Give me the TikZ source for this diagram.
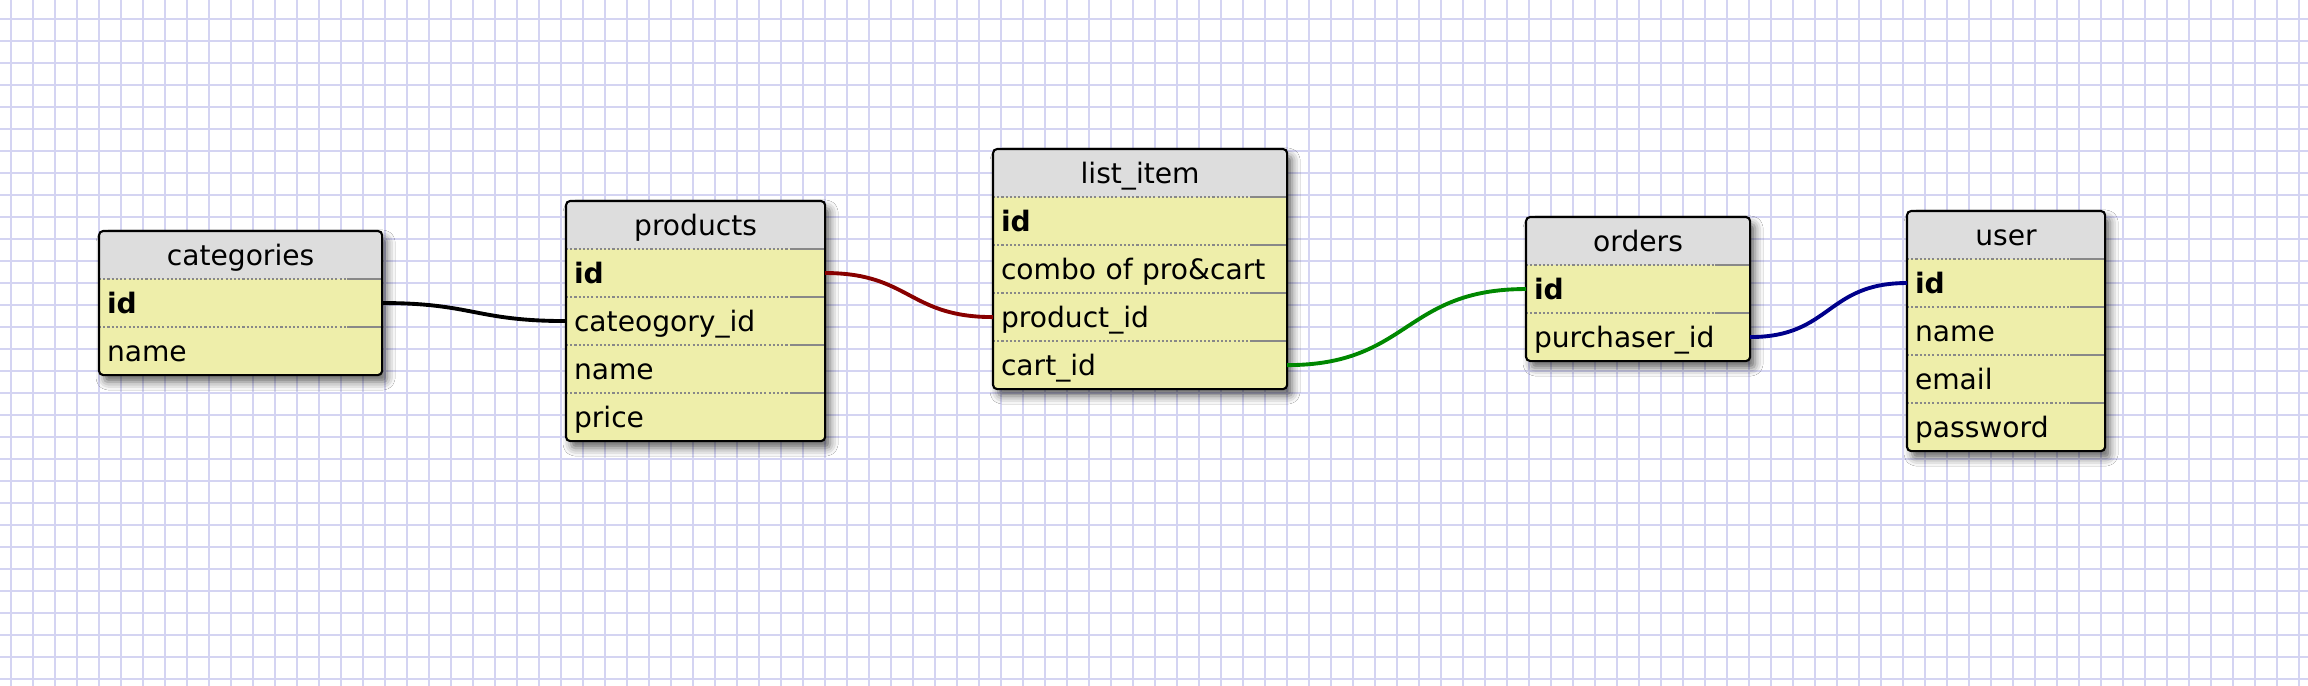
\documentclass[tikz,border=0pt]{standalone}
\usepackage{fontspec}
\setmainfont{DejaVu Sans}
\usetikzlibrary{positioning,backgrounds,shadows.blur}
\definecolor{GridLav}{RGB}{212,212,242}
\definecolor{HeadGray}{RGB}{221,221,221}
\definecolor{RowKhaki}{RGB}{238,238,170}
\definecolor{SepGray}{RGB}{136,136,136}
\definecolor{LinkRed}{RGB}{136,0,0}
\definecolor{LinkGreen}{RGB}{0,136,0}
\definecolor{LinkBlue}{RGB}{0,0,139}

\begin{document}
\begin{tikzpicture}[
        x=0.01cm, y=-0.01cm,
        node distance=0pt,
        every node/.style={font=\fontsize{8}{9.6}\selectfont},
        tablehead/.style={
            fill=HeadGray,
            anchor=north west,
            inner xsep=0.08cm,
            inner ysep=0pt,
            outer sep=0pt,
            minimum height=0.48cm,
            text height=1.55ex,
            text depth=0.45ex,
            text width=#1,
            align=center
        },
        tablerow/.style={
            tablehead=#1,
            fill=RowKhaki,
            align=left
        },
        tableframe/.style={
            draw=black,
            line width=0.6pt,
            rounded corners=1.2pt
        },
        tableshadow/.style={
            rounded corners=1.2pt,
            blur shadow={shadow xshift=0.05cm, shadow yshift=-0.07cm,
                shadow blur radius=0.08cm, shadow opacity=60}
        },
        rowsep/.style={
            draw=SepGray,
            line width=0.45pt,
            dash pattern=on 0.6pt off 0.6pt
        },
        rowsepend/.style={
            draw=SepGray,
            line width=0.45pt
        },
        gridline/.style={
            draw=GridLav,
            line width=0.6pt
        },
        link/.style={
            line width=1.1pt,
            out=0,
            in=180,
            looseness=1.25
        }
    ]
        \useasboundingbox (0,0) rectangle (2308,686);

        % categories
        \node[tablehead=2.67cm] (cat) at (99,231) {categories};
        \node[tablerow=2.67cm, below=of cat] (catid) {\textbf{id}};
        \node[tablerow=2.67cm, below=of catid] (catname) {name};

        % products
        \node[tablehead=2.43cm] (prod) at (566,201) {products};
        \node[tablerow=2.43cm, below=of prod] (prodid) {\textbf{id}};
        \node[tablerow=2.43cm, below=of prodid] (prodcat) {cateogory\_id};
        \node[tablerow=2.43cm, below=of prodcat] (prodname) {name};
        \node[tablerow=2.43cm, below=of prodname] (prodprice) {price};

        % list_item
        \node[tablehead=2.78cm] (item) at (993,149) {list\_item};
        \node[tablerow=2.78cm, below=of item] (itemid) {\textbf{id}};
        \node[tablerow=2.78cm, below=of itemid] (itemcombo) {combo of pro\&cart};
        \node[tablerow=2.78cm, below=of itemcombo] (itemprod) {product\_id};
        \node[tablerow=2.78cm, below=of itemprod] (itemcart) {cart\_id};

        % orders
        \node[tablehead=2.08cm] (ord) at (1526,217) {orders};
        \node[tablerow=2.08cm, below=of ord] (ordid) {\textbf{id}};
        \node[tablerow=2.08cm, below=of ordid] (ordbuyer) {purchaser\_id};

        % user
        \node[tablehead=1.82cm] (usr) at (1907,211) {user};
        \node[tablerow=1.82cm, below=of usr] (usrid) {\textbf{id}};
        \node[tablerow=1.82cm, below=of usrid] (usrname) {name};
        \node[tablerow=1.82cm, below=of usrname] (usremail) {email};
        \node[tablerow=1.82cm, below=of usremail] (usrpass) {password};

        % dotted row separators
        \foreach \r in {catid,catname,prodid,prodcat,prodname,prodprice,
                itemid,itemcombo,itemprod,itemcart,ordid,ordbuyer,
                usrid,usrname,usremail,usrpass} {
            \draw[rowsep] (\r.north west) -- (\r.north east);
            \draw[rowsepend] ([xshift=-0.35cm]\r.north east) -- (\r.north east);
        }

        % table borders
        \foreach \t/\b in {cat/catname,prod/prodprice,item/itemcart,ord/ordbuyer,usr/usrpass}
            \draw[tableframe] (\t.north west) rectangle (\b.south east);

        % relations
        \draw[link] (catid.east) to (prodcat.west);
        \draw[link, LinkRed] (prodid.east) to (itemprod.west);
        \draw[link, LinkGreen] (itemcart.east) to (ordid.west);
        \draw[link, LinkBlue] (ordbuyer.east) to (usrid.west);

        \begin{scope}[on background layer]
            \fill[white] (0,0) rectangle (2308,686);
            \foreach \gx in {11,33,...,2308}
                \draw[gridline] (\gx,0) -- (\gx,686);
            \foreach \gy in {19,41,...,686}
                \draw[gridline] (0,\gy) -- (2308,\gy);
            \foreach \t/\b in {cat/catname,prod/prodprice,item/itemcart,ord/ordbuyer,usr/usrpass}
                \path[tableshadow] (\t.north west) rectangle (\b.south east);
        \end{scope}
\end{tikzpicture}
\end{document}
